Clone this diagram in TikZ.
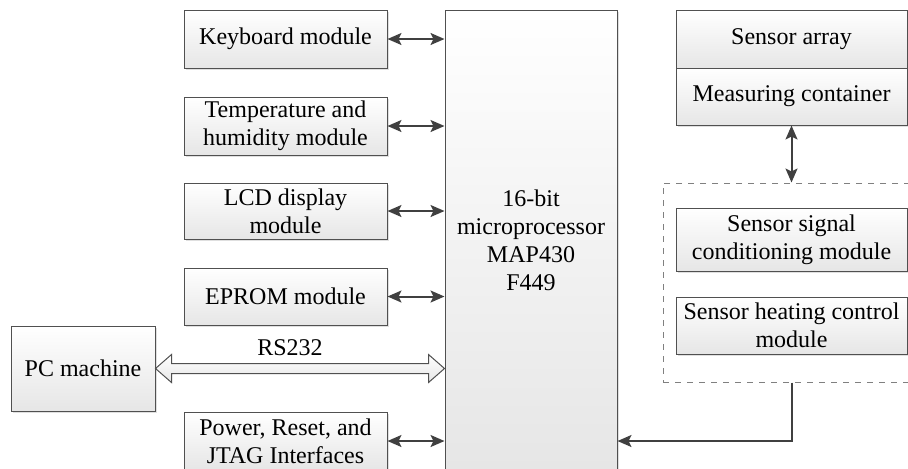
\documentclass[tikz,border=0pt]{standalone}
\usepackage{fontspec}
\setmainfont{Liberation Serif}
\usetikzlibrary{arrows.meta,calc,shadows}
\definecolor{boxline}{HTML}{505050}
\definecolor{arrowgray}{HTML}{404040}
\definecolor{boxfoot}{HTML}{E6E6E6}
\tikzset{
  modbox/.style={draw=boxline, line width=0.5pt, rectangle, align=center,
    top color=white, bottom color=boxfoot, inner sep=1pt,
    drop shadow={shadow xshift=0.8pt, shadow yshift=-0.8pt, fill=black!25},
    font=\fontsize{12}{14}\selectfont},
  link/.style={draw=arrowgray, line width=1pt, {Stealth[length=7pt,width=6pt,inset=1.5pt]}-{Stealth[length=7pt,width=6pt,inset=1.5pt]}},
  feed/.style={draw=arrowgray, line width=1pt, -{Stealth[length=7pt,width=6pt,inset=1.5pt]}}
}

\begin{document}
\begin{tikzpicture}[x=0.5pt, y=-0.5pt]
\useasboundingbox (0,0) rectangle (908,468);
\clip (0,0) rectangle (908,468);

\node[modbox, minimum width=86pt, minimum height=230pt] (micro) at (531,240) {16-bit\\microprocessor\\MAP430\\F449};

\node[modbox, minimum width=101.5pt, minimum height=29pt] (kbd) at (285.5,39) {Keyboard module};
\node[modbox, minimum width=101.5pt, minimum height=29pt] (temp) at (285.5,126) {Temperature and\\humidity module};
\node[modbox, minimum width=101.5pt, minimum height=28pt] (lcd) at (285.5,211) {LCD display\\module};
\node[modbox, minimum width=101.5pt, minimum height=28.5pt] (eprom) at (285.5,296.5) {EPROM module};
\node[modbox, minimum width=101.5pt, minimum height=29pt] (pwr) at (285.5,441) {Power, Reset, and\\JTAG Interfaces};
\node[modbox, minimum width=72pt, minimum height=42.5pt] (pc) at (83,368.5) {PC machine};

\node[modbox, minimum width=115.5pt, minimum height=29pt] (array) at (791.5,39) {Sensor array};
\node[modbox, minimum width=115.5pt, minimum height=28.5pt] (meas) at (791.5,96.5) {Measuring container};
\node[draw=gray, dashed, line width=0.5pt, minimum width=126pt, minimum height=99.5pt] (cond) at (789,282.5) {};
\node[modbox, minimum width=115.5pt, minimum height=31.5pt] (signal) at (791.5,239.5) {Sensor signal\\conditioning module};
\node[modbox, minimum width=115.5pt, minimum height=28.5pt] (heat) at (791.5,325.5) {Sensor heating control\\module};

\draw[link] (kbd.east) -- (kbd.east -| micro.west);
\draw[link] (temp.east) -- (temp.east -| micro.west);
\draw[link] (lcd.east) -- (lcd.east -| micro.west);
\draw[link] (eprom.east) -- (eprom.east -| micro.west);
\draw[link] (pwr.east) -- (pwr.east -| micro.west);

\draw[draw=boxline, line width=0.5pt, top color=white, bottom color=boxfoot]
  (pc.east) -- ++(16,-14) -- ++(0,9) -- ($(pc.east -| micro.west)+(-16,-5)$) -- ++(0,-9)
  -- (pc.east -| micro.west) -- ++(-16,14) -- ++(0,-9) -- ($(pc.east)+(16,5)$) -- ++(0,9) -- cycle;
\node[font=\fontsize{12}{14}\selectfont] (rs) at (290,348) {RS232};

\draw[link] (meas.south) -- (meas.south |- cond.north);
\draw[feed] (meas.south |- cond.south) |- (micro.east |- pwr.east);
\end{tikzpicture}
\end{document}
